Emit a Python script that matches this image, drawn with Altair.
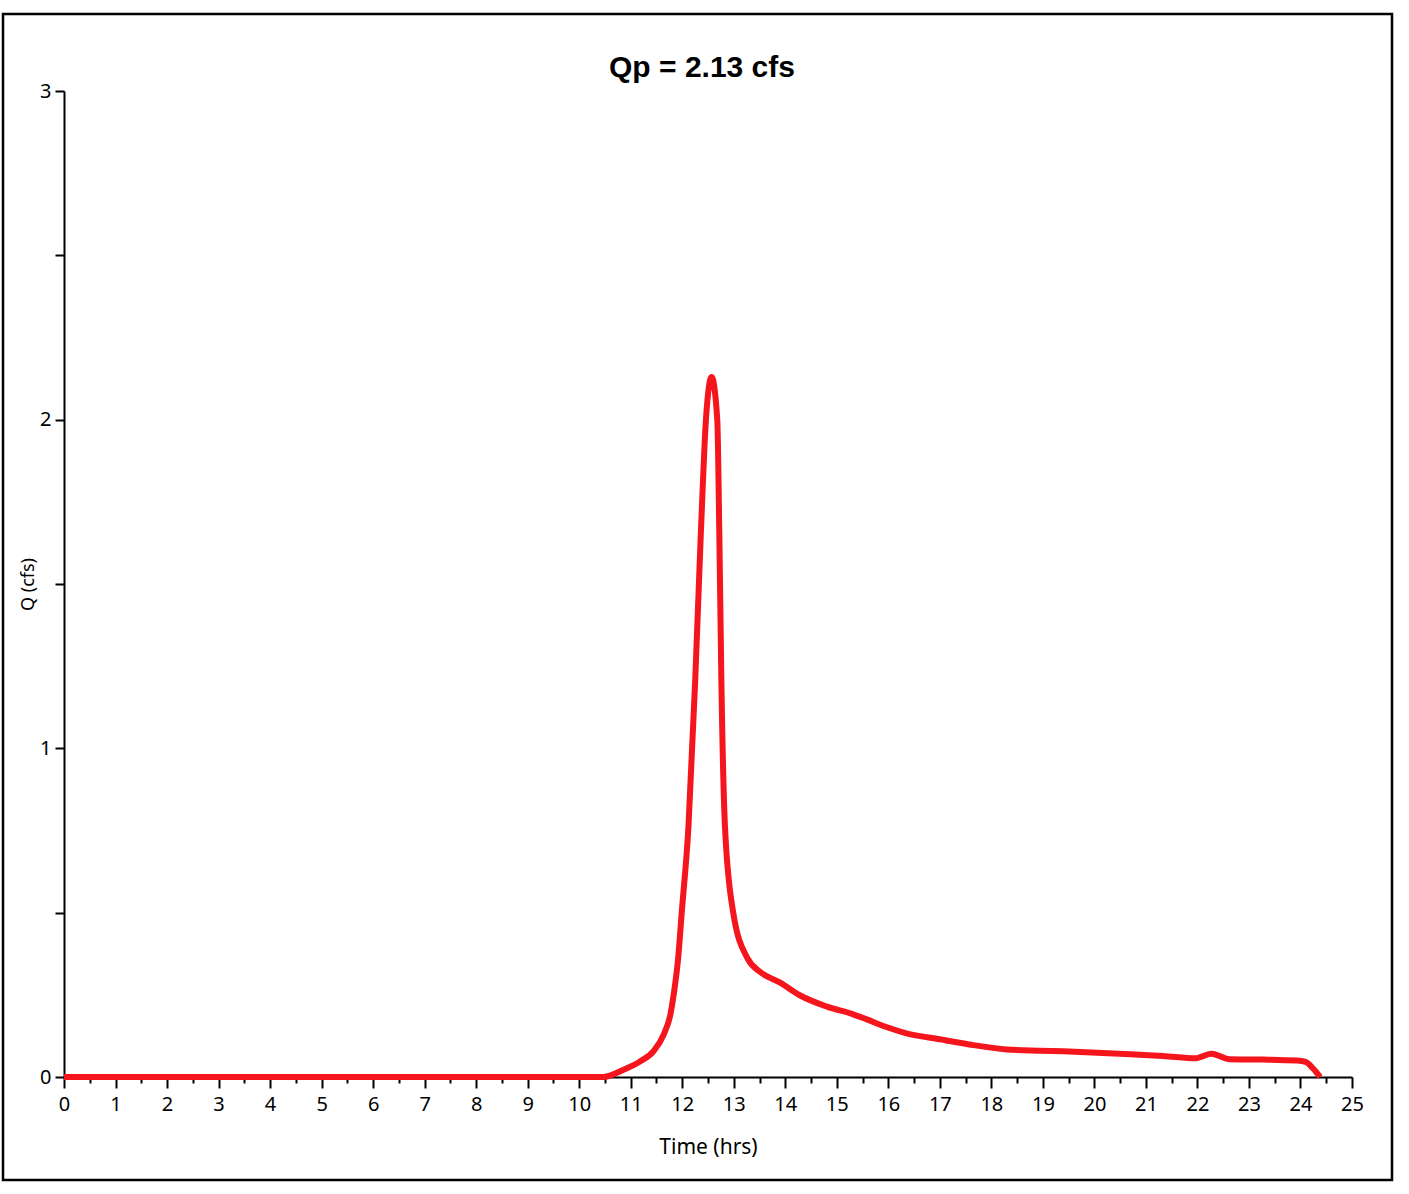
import altair as alt
import pandas as pd

# Runoff hydrograph: time (hrs) vs discharge Q (cfs)
time_hrs = [0, 1, 2, 3, 4, 5, 6, 7, 8, 9, 10, 10.47, 10.86, 11.18, 11.44,
            11.64, 11.77, 11.86, 11.92, 11.99, 12.12, 12.25, 12.36, 12.46,
            12.57, 12.68, 12.72, 12.76, 12.83, 12.99, 13.27, 13.51, 13.9,
            14.29, 14.81, 15.33, 15.57, 15.96, 16.35, 17.0, 17.65, 18.3,
            18.95, 19.4, 20.05, 20.7, 21.33, 21.98, 22.1, 22.27, 22.63,
            23.28, 23.93, 24.1, 24.25, 24.38]
flow_cfs = [0.0, 0.0, 0.0, 0.0, 0.0, 0.0, 0.0, 0.0, 0.0, 0.0, 0.0, 0.0, 0.022,
            0.047, 0.078, 0.129, 0.19, 0.28, 0.36, 0.50, 0.76, 1.2, 1.65, 2.0,
            2.13, 2.0, 1.65, 1.2, 0.76, 0.50, 0.36, 0.32, 0.287, 0.248, 0.214,
            0.19, 0.176, 0.152, 0.133, 0.115, 0.097, 0.084, 0.080, 0.078,
            0.074, 0.069, 0.064, 0.057, 0.063, 0.071, 0.054, 0.053, 0.050,
            0.046, 0.025, 0.0]

peak_label = "Qp = 2.13 cfs"

df = pd.DataFrame({"t": time_hrs, "q": flow_cfs})

x_ticks = [i * 0.5 for i in range(51)]
y_ticks = [i * 0.5 for i in range(7)]
int_labels = "datum.value % 1 == 0 ? format(datum.value, 'd') : ''"

hydrograph = alt.Chart(df).mark_line(
    color="#f5151c", strokeWidth=6, interpolate="monotone"
).encode(
    x=alt.X("t:Q", title="Time (hrs)",
            scale=alt.Scale(domain=[0, 25], nice=False, zero=False),
            axis=alt.Axis(values=x_ticks, labelExpr=int_labels,
                          labelOverlap=False, labelFlush=False,
                          tickSize={"condition": {"test": "datum.value % 1 == 0", "value": 11}, "value": 6},
                          labelPadding=6, titlePadding=22)),
    y=alt.Y("q:Q", title="Q (cfs)",
            scale=alt.Scale(domain=[0, 3], nice=False),
            axis=alt.Axis(values=y_ticks, labelExpr=int_labels,
                          labelOverlap=False, labelFlush=False,
                          tickSize=9, labelPadding=4, titlePadding=2)),
)

# Peak-flow heading above the plot
heading = alt.Chart(df.head(1)).mark_text(
    text=peak_label, font="Liberation Sans", fontSize=30, fontWeight="bold",
    color="black", align="center", baseline="middle",
).encode(x=alt.value(638), y=alt.value(-23))

# Outer frame around the figure
frame = alt.Chart(df.head(1)).mark_rect(filled=False, stroke="black", strokeWidth=2.5).encode(
    x=alt.value(-61), x2=alt.value(1328),
    y=alt.value(-77), y2=alt.value(1089),
)

chart = alt.layer(hydrograph, heading, frame).properties(
    width=1288, height=986,
    autosize="none",
    padding={"left": 64, "top": 91, "right": 57, "bottom": 117},
).configure_view(stroke=None).configure_axis(
    domainColor="black", domainWidth=2, tickColor="black", tickWidth=2,
    labelFont="Noto Sans", labelFontSize=20, labelColor="black",
    titleFont="Noto Sans", titleFontWeight="normal", titleColor="black",
    grid=False,
).configure_axisX(titleFontSize=21).configure_axisY(titleFontSize=18)

chart.save("out.html", embed_options={"renderer": "svg", "actions": False})
